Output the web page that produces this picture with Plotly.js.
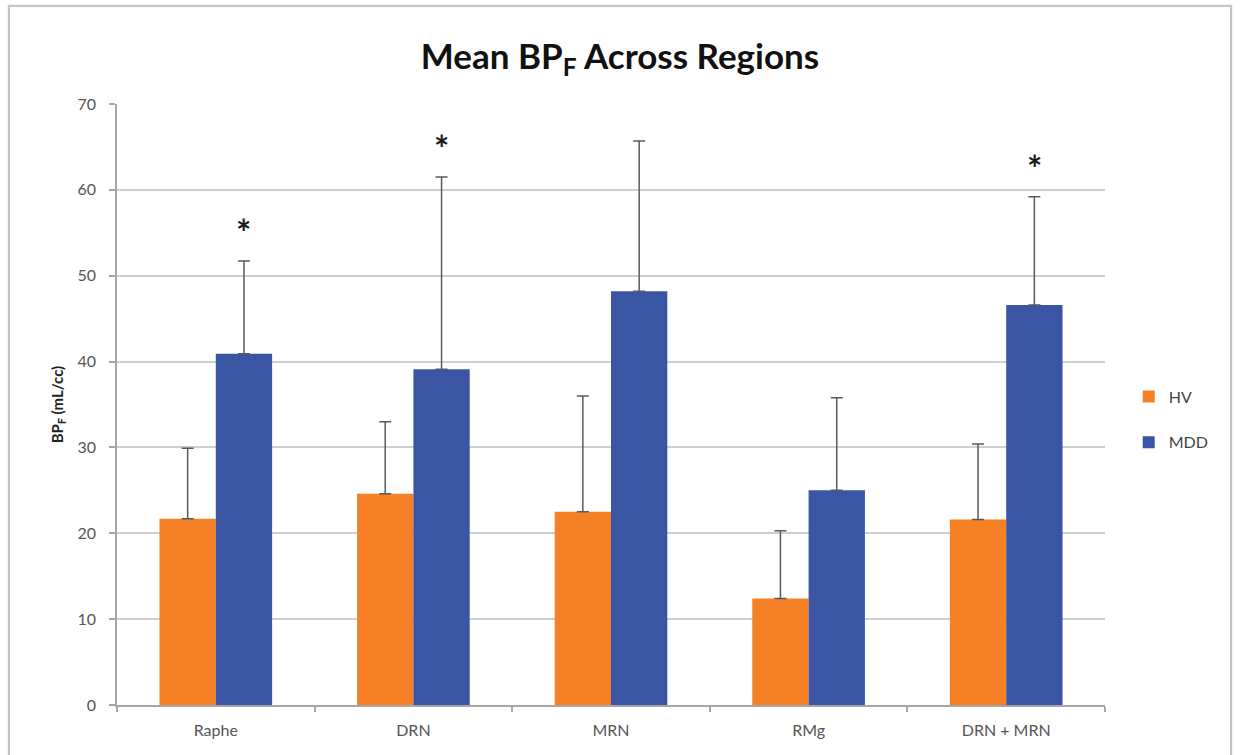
<!DOCTYPE html>
<html>
<head>
<meta charset="utf-8">
<script src="https://cdn.plot.ly/plotly-3.0.1.min.js"></script>
<style>
  html, body { margin: 0; padding: 0; background: #ffffff; overflow: hidden; }
  #frame { position: absolute; left: 8px; top: 5px; width: 1224px; height: 820px;
           border: 2px solid #c4c4c4; box-shadow: 0 0 2px #d8d8d8; box-sizing: border-box; }
  #chart { position: absolute; left: 0; top: 0; width: 1240px; height: 755px; }
</style>
</head>
<body>
<div id="frame"></div>
<div id="chart"></div>
<script>
// ---- data ----
const regions = ["Raphe", "DRN", "MRN", "RMg", "DRN + MRN"];
const hvMean  = [21.7, 24.6, 22.5, 12.4, 21.6];
const hvErr   = [8.2, 8.4, 13.5, 7.9, 8.8];
const mddMean = [40.9, 39.1, 48.2, 25.0, 46.6];
const mddErr  = [10.8, 22.4, 17.5, 10.8, 12.6];
const significant = [true, true, false, false, true];
const yTicks = [0, 10, 20, 30, 40, 50, 60, 70];

const FONT = "Lato, 'Open Sans', sans-serif";
const orange = "#F58025";
const blue = "#3B55A5";
const errColor = "#5a5a5a";

const zeros = regions.map(() => 0);

const traces = [
  {
    type: "bar", name: "HV", x: regions, y: hvMean,
    marker: { color: orange },
    legendgroup: "hv",
    error_y: { type: "data", symmetric: false, array: hvErr, arrayminus: zeros,
               color: errColor, thickness: 1.5, width: 6 },
    hoverinfo: "x+y"
  },
  {
    type: "bar", name: "MDD", x: regions, y: mddMean,
    marker: { color: blue },
    legendgroup: "mdd",
    error_y: { type: "data", symmetric: false, array: mddErr, arrayminus: zeros,
               color: errColor, thickness: 1.5, width: 6 },
    hoverinfo: "x+y"
  }
];

const annotations = [];
regions.forEach((r, i) => {
  if (significant[i]) {
    annotations.push({
      x: r, y: mddMean[i] + mddErr[i], xref: "x", yref: "y",
      text: "<b>*</b>", showarrow: false, xshift: 28, yanchor: "bottom", yshift: 5,
      font: { family: FONT, size: 36, color: "#1a1a1a" }
    });
  }
});

const layout = {
  width: 1240, height: 755,
  paper_bgcolor: "rgba(0,0,0,0)",
  plot_bgcolor: "rgba(0,0,0,0)",
  margin: { l: 117, r: 135, t: 104, b: 50 },
  title: {
    text: "<b>Mean BP<sub>F</sub> Across Regions</b>",
    font: { family: FONT, size: 35, color: "#111111" },
    x: 0.5, xref: "container", xanchor: "center",
    y: 0.925, yref: "container", yanchor: "middle"
  },
  barmode: "group",
  bargap: 0.43,
  bargroupgap: 0,
  xaxis: {
    type: "category",
    showline: true, linecolor: "#a6a6a6", linewidth: 1.5,
    ticks: "outside", tickson: "boundaries", ticklen: 5, tickcolor: "#a6a6a6", tickwidth: 1.5,
    ticklabelstandoff: 10,
    tickfont: { family: FONT, size: 16, color: "#555555" },
    showgrid: false, zeroline: false
  },
  yaxis: {
    range: [0, 70],
    tickvals: yTicks, ticktext: yTicks.map(String),
    showline: true, linecolor: "#a6a6a6", linewidth: 1.5,
    ticks: "outside", ticklen: 6, tickcolor: "#a6a6a6", tickwidth: 1.5,
    ticklabelstandoff: 10,
    tickfont: { family: FONT, size: 16, color: "#555555" },
    showgrid: true, gridcolor: "#cfcfcf", gridwidth: 1.5,
    zeroline: false,
    title: { text: "<b>BP<sub>F</sub> (mL/cc)</b>", standoff: 10,
             font: { family: FONT, size: 15, color: "#222222" } }
  },
  legend: {
    x: 1.024, xanchor: "left", y: 0.475, yanchor: "middle",
    traceorder: "grouped", tracegroupgap: 22,
    font: { family: FONT, size: 16, color: "#444444" },
    itemwidth: 30
  },
  annotations: annotations,
  showlegend: true
};

Plotly.newPlot("chart", traces, layout, { displayModeBar: false, responsive: false });
</script>
</body>
</html>
